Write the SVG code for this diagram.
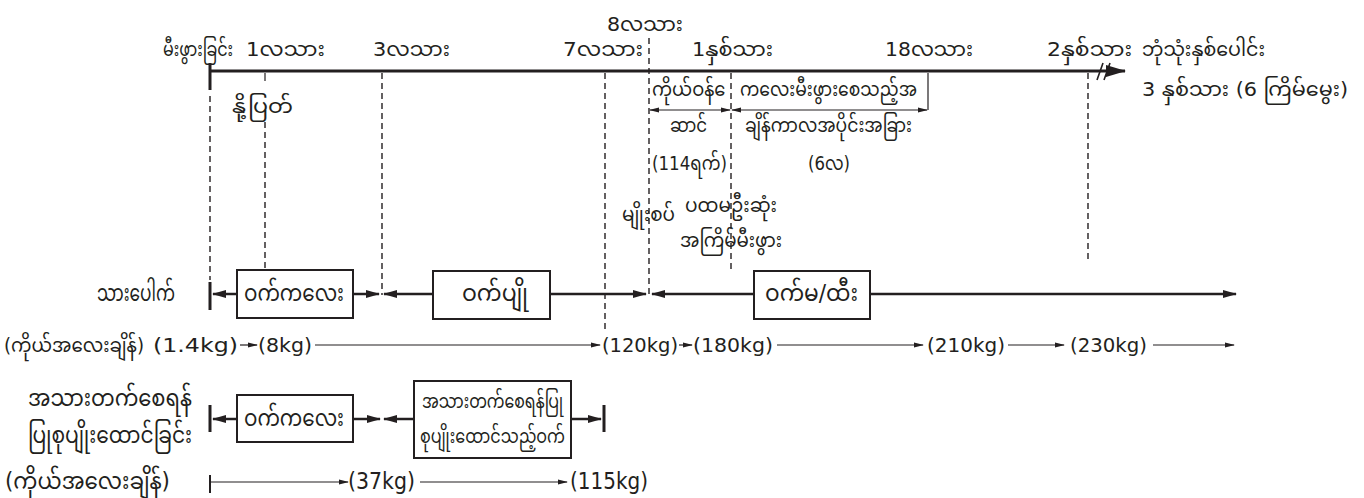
<svg xmlns="http://www.w3.org/2000/svg" width="1364" height="498" viewBox="0 0 1364 498">
<style>
text{font-family:"DejaVu Sans","Noto Sans Myanmar","Padauk","Myanmar Text",sans-serif;font-size:20px;fill:#231f20}
.b{font-size:23px}
.w{font-size:20px}
.ax{stroke:#231f20;stroke-width:3;fill:none}
.bx{fill:#fff;stroke:#231f20;stroke-width:2}
.ar{stroke:#231f20;stroke-width:2.5;fill:none}
.th{stroke:#231f20;stroke-width:1.2;fill:none}
.ds{stroke:#231f20;stroke-width:1.4;stroke-dasharray:6 4;fill:none}
.tk{stroke:#231f20;stroke-width:3}
</style>
<defs>
<marker id="big" markerWidth="20" markerHeight="14" refX="19" refY="7" orient="auto" markerUnits="userSpaceOnUse"><path d="M0,1 L20,7 L0,13 Z" fill="#231f20"/></marker>
<marker id="mid" markerWidth="14" markerHeight="10" refX="13" refY="5" orient="auto" markerUnits="userSpaceOnUse"><path d="M0,1 L14,5 L0,9 Z" fill="#231f20"/></marker>
<marker id="sm" markerWidth="10" markerHeight="8" refX="9" refY="4" orient="auto" markerUnits="userSpaceOnUse"><path d="M0,1.5 L10,4 L0,6.5 Z" fill="#231f20"/></marker>
<marker id="sms" markerWidth="10" markerHeight="8" refX="1" refY="4" orient="auto" markerUnits="userSpaceOnUse"><path d="M10,1.5 L0,4 L10,6.5 Z" fill="#231f20"/></marker>
</defs>

<g id="connectors">
<line class="ax" x1="210" y1="71" x2="1125" y2="71" marker-end="url(#big)"/>
<line class="tk" x1="210" y1="63" x2="210" y2="90"/>
<line x1="1097" y1="80" x2="1103" y2="63" stroke="#231f20" stroke-width="1.6"/>
<line x1="1104" y1="80" x2="1110" y2="63" stroke="#231f20" stroke-width="1.6"/>
<line class="ds" x1="210" y1="96" x2="210" y2="280"/>
<line class="th" x1="265" y1="73" x2="265" y2="81"/>
<line class="ds" x1="265" y1="122" x2="265" y2="270"/>
<line class="ds" x1="382" y1="73" x2="382" y2="295"/>
<line class="ds" x1="605" y1="73" x2="605" y2="332"/>
<line class="ds" x1="649" y1="38" x2="649" y2="298"/>
<line class="ds" x1="731" y1="73" x2="731" y2="272"/>
<line class="ds" x1="1088" y1="73" x2="1088" y2="260"/>
<line class="th" x1="928" y1="73" x2="928" y2="110"/>
<line class="th" x1="650" y1="110" x2="730" y2="110" marker-start="url(#sms)" marker-end="url(#sm)"/>
<line class="th" x1="732" y1="110" x2="927" y2="110" marker-start="url(#sms)" marker-end="url(#sm)"/>
<line class="tk" x1="210" y1="282" x2="210" y2="310"/>
<line class="ar" x1="237" y1="294" x2="213" y2="294" marker-end="url(#mid)"/>
<line class="ar" x1="353" y1="294" x2="379" y2="294" marker-end="url(#mid)"/>
<line class="ar" x1="433" y1="294" x2="384" y2="294" marker-end="url(#mid)"/>
<line class="ar" x1="550" y1="294" x2="646" y2="294" marker-end="url(#mid)"/>
<line class="ar" x1="754" y1="294" x2="652" y2="294" marker-end="url(#mid)"/>
<line class="ar" x1="870" y1="294" x2="1236" y2="294" marker-end="url(#mid)"/>
<line class="th" x1="240" y1="345" x2="257" y2="345" marker-end="url(#sm)"/>
<line class="th" x1="315" y1="345" x2="600" y2="345" marker-end="url(#sm)"/>
<line class="th" x1="679" y1="345" x2="692" y2="345" marker-end="url(#sm)"/>
<line class="th" x1="777" y1="345" x2="923" y2="345" marker-end="url(#sm)"/>
<line class="th" x1="1008" y1="345" x2="1064" y2="345" marker-end="url(#sm)"/>
<line class="th" x1="1153" y1="345" x2="1234" y2="345" marker-end="url(#sm)"/>
<line class="tk" x1="210" y1="405" x2="210" y2="432"/>
<line class="ar" x1="237" y1="419" x2="213" y2="419" marker-end="url(#mid)"/>
<line class="ar" x1="353" y1="419" x2="380" y2="419" marker-end="url(#mid)"/>
<line class="ar" x1="414" y1="419" x2="384" y2="419" marker-end="url(#mid)"/>
<line class="ar" x1="571" y1="419" x2="601" y2="419" marker-end="url(#mid)"/>
<line class="tk" x1="604" y1="405" x2="604" y2="432"/>
<line class="tk" x1="210" y1="475" x2="210" y2="493" style="stroke-width:2"/>
<line class="th" x1="210" y1="482" x2="348" y2="482" marker-end="url(#sm)"/>
<line class="th" x1="420" y1="482" x2="567" y2="482" marker-end="url(#sm)"/>
</g>

<g id="timeline-labels">
<text x="163" y="56" textLength="70" lengthAdjust="spacingAndGlyphs">မီးဖွားခြင်း</text>
<text x="246" y="56" textLength="79" lengthAdjust="spacingAndGlyphs">1လသား</text>
<text x="373" y="56" textLength="77" lengthAdjust="spacingAndGlyphs">3လသား</text>
<text x="563" y="56" textLength="80" lengthAdjust="spacingAndGlyphs">7လသား</text>
<text x="607" y="31" textLength="76" lengthAdjust="spacingAndGlyphs">8လသား</text>
<text x="692" y="56" textLength="81" lengthAdjust="spacingAndGlyphs">1နှစ်သား</text>
<text x="885" y="56" textLength="88" lengthAdjust="spacingAndGlyphs">18လသား</text>
<text x="1047" y="56" textLength="85" lengthAdjust="spacingAndGlyphs">2နှစ်သား</text>
<text x="1142" y="56" textLength="123" lengthAdjust="spacingAndGlyphs">ဘုံသုံးနှစ်ပေါင်း</text>
<text x="1142" y="96" textLength="206" lengthAdjust="spacingAndGlyphs">3 နှစ်သား (6 ကြိမ်မွေး)</text>
<text x="232" y="113" textLength="61" lengthAdjust="spacingAndGlyphs">နို့ပြတ်</text>
</g>

<g id="pregnancy">
<text x="652" y="96" textLength="78" lengthAdjust="spacingAndGlyphs">ကိုယ်ဝန်&#160;ေ</text>
<text x="670" y="132" textLength="37" lengthAdjust="spacingAndGlyphs">ဆာင်</text>
<text x="652" y="170" textLength="75" lengthAdjust="spacingAndGlyphs">(114ရက်)</text>
</g>

<g id="interval">
<text x="740" y="96" textLength="177" lengthAdjust="spacingAndGlyphs">ကလေးမီးဖွားစေသည့်အ</text>
<text x="745" y="132" textLength="167" lengthAdjust="spacingAndGlyphs">ချိန်ကာလအပိုင်းအခြား</text>
<text x="808" y="170" textLength="42" lengthAdjust="spacingAndGlyphs">(6လ)</text>
</g>

<g id="mating"><text x="622" y="221" textLength="53" lengthAdjust="spacingAndGlyphs">မျိုးစပ်</text></g>
<g id="first-birth">
<text x="685" y="212" textLength="92" lengthAdjust="spacingAndGlyphs">ပထမဦးဆုံး</text>
<text x="680" y="247" textLength="102" lengthAdjust="spacingAndGlyphs">အကြိမ်မီးဖွား</text>
</g>

<g id="row-birth"><text class="b" x="97" y="301" textLength="78" lengthAdjust="spacingAndGlyphs">သားပေါက်</text></g>
<g id="piglet"><rect class="bx" x="237" y="270" width="116" height="48"/><text class="b" x="244" y="301" textLength="100" lengthAdjust="spacingAndGlyphs">ဝက်ကလေး</text></g>
<g id="gilt"><rect class="bx" x="433" y="271" width="117" height="48"/><text class="b" x="462" y="301" textLength="66" lengthAdjust="spacingAndGlyphs">ဝက်ပျို</text></g>
<g id="sow"><rect class="bx" x="754" y="271" width="116" height="48"/><text class="b" x="765" y="301" textLength="93" lengthAdjust="spacingAndGlyphs">ဝက်မ/ထီး</text></g>

<g id="weights">
<text class="w" x="4" y="352" textLength="140" lengthAdjust="spacingAndGlyphs">(ကိုယ်အလေးချိန်)</text>
<text class="w" x="153" y="352" textLength="85" lengthAdjust="spacingAndGlyphs">(1.4kg)</text>
<text class="w" x="258" y="352" textLength="54" lengthAdjust="spacingAndGlyphs">(8kg)</text>
<text class="w" x="602" y="352" textLength="76" lengthAdjust="spacingAndGlyphs">(120kg)</text>
<text class="w" x="693" y="352" textLength="80" lengthAdjust="spacingAndGlyphs">(180kg)</text>
<text class="w" x="927" y="352" textLength="78" lengthAdjust="spacingAndGlyphs">(210kg)</text>
<text class="w" x="1070" y="352" textLength="77" lengthAdjust="spacingAndGlyphs">(230kg)</text>
</g>

<g id="row-fattening">
<text class="b" x="28" y="406" textLength="164" lengthAdjust="spacingAndGlyphs">အသားတက်စေရန်</text>
<text class="b" x="28" y="443" textLength="164" lengthAdjust="spacingAndGlyphs">ပြုစုပျိုးထောင်ခြင်း</text>
</g>
<g id="piglet2"><rect class="bx" x="237" y="395" width="116" height="47"/><text class="b" x="244" y="426" textLength="100" lengthAdjust="spacingAndGlyphs">ဝက်ကလေး</text></g>
<g id="fattener"><rect class="bx" x="414" y="381" width="157" height="77"/><text x="422" y="408" textLength="141" lengthAdjust="spacingAndGlyphs">အသားတက်စေရန်ပြု</text><text x="420" y="443" textLength="145" lengthAdjust="spacingAndGlyphs">စုပျိုးထောင်သည့်ဝက်</text></g>

<g id="weights2">
<text class="b" x="5" y="489" textLength="165" lengthAdjust="spacingAndGlyphs">(ကိုယ်အလေးချိန်)</text>
<text class="b" x="348" y="489" textLength="67" lengthAdjust="spacingAndGlyphs">(37kg)</text>
<text class="b" x="570" y="489" textLength="78" lengthAdjust="spacingAndGlyphs">(115kg)</text>
</g>
</svg>
